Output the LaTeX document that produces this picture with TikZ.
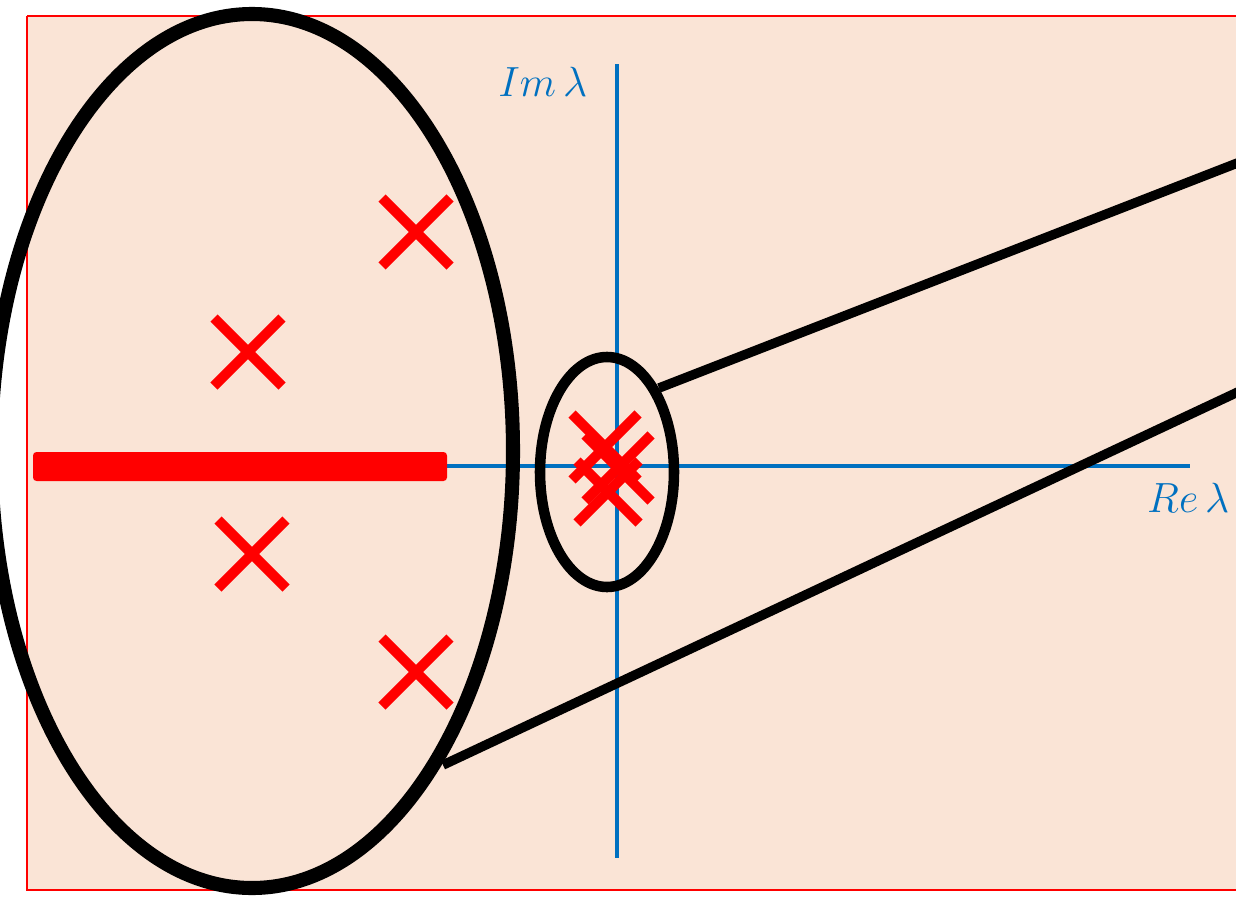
\documentclass[tikz,border=0pt]{standalone}
\usepackage{fontspec}
\setmainfont{Liberation Serif}
\definecolor{peach}{HTML}{FAE4D6}
\definecolor{axblue}{HTML}{0070C0}
\begin{document}
\begin{tikzpicture}[x=0.01cm,y=-0.01cm,
  cross/.style={red,line width=2.9pt},
  axis/.style={axblue,line width=1.4pt},
  ring/.style={black,line width=4pt},
  lbl/.style={text=axblue,font=\fontsize{13}{15}\selectfont,inner sep=0pt}]
\useasboundingbox (0,0) rectangle (1236,897);
\clip (0,0) rectangle (1236,897);
\fill[peach] (27,16) rectangle (1240,890);
\draw[red,line width=0.6pt] (27,16) -- (1240,16) (27,16) -- (27,890) -- (1240,890);
% axes
\coordinate (vt) at (617,64);
\coordinate (vb) at (617,858);
\coordinate (hl) at (440,466);
\coordinate (hr) at (1190,466);
\draw[axis] (vt) -- (vb);
\draw[axis] (hl) -- (hr);
\node[lbl,anchor=east] (im) at (588,82) {$Im\,\lambda$};
\node[lbl,anchor=east] (re) at (1230,498) {$Re\,\lambda$};
% red bar
\fill[red,rounded corners=1pt] (33,452) rectangle (447,481);
% crosses
\foreach \cx/\cy/\s in {416/232/34, 248/352/34, 252/554/34, 416/672/34, 605/447/33, 618/468/33, 608/492/31}{
  \draw[cross] (\cx-\s,\cy-\s) -- (\cx+\s,\cy+\s) (\cx-\s,\cy+\s) -- (\cx+\s,\cy-\s);
}
% big ellipse
\draw[ring] (252,451) ellipse [x radius=261, y radius=437];
% small ellipse
\draw[ring,line width=3pt] (607,472) ellipse [x radius=67, y radius=115];
% connecting lines
\coordinate (a1) at (659,388);
\coordinate (a2) at (1240,162);
\coordinate (b1) at (443,765);
\coordinate (b2) at (1240,391);
\draw[black,line width=2.7pt] (a1) -- (a2);
\draw[black,line width=2.7pt] (b1) -- (b2);
\end{tikzpicture}
\end{document}
